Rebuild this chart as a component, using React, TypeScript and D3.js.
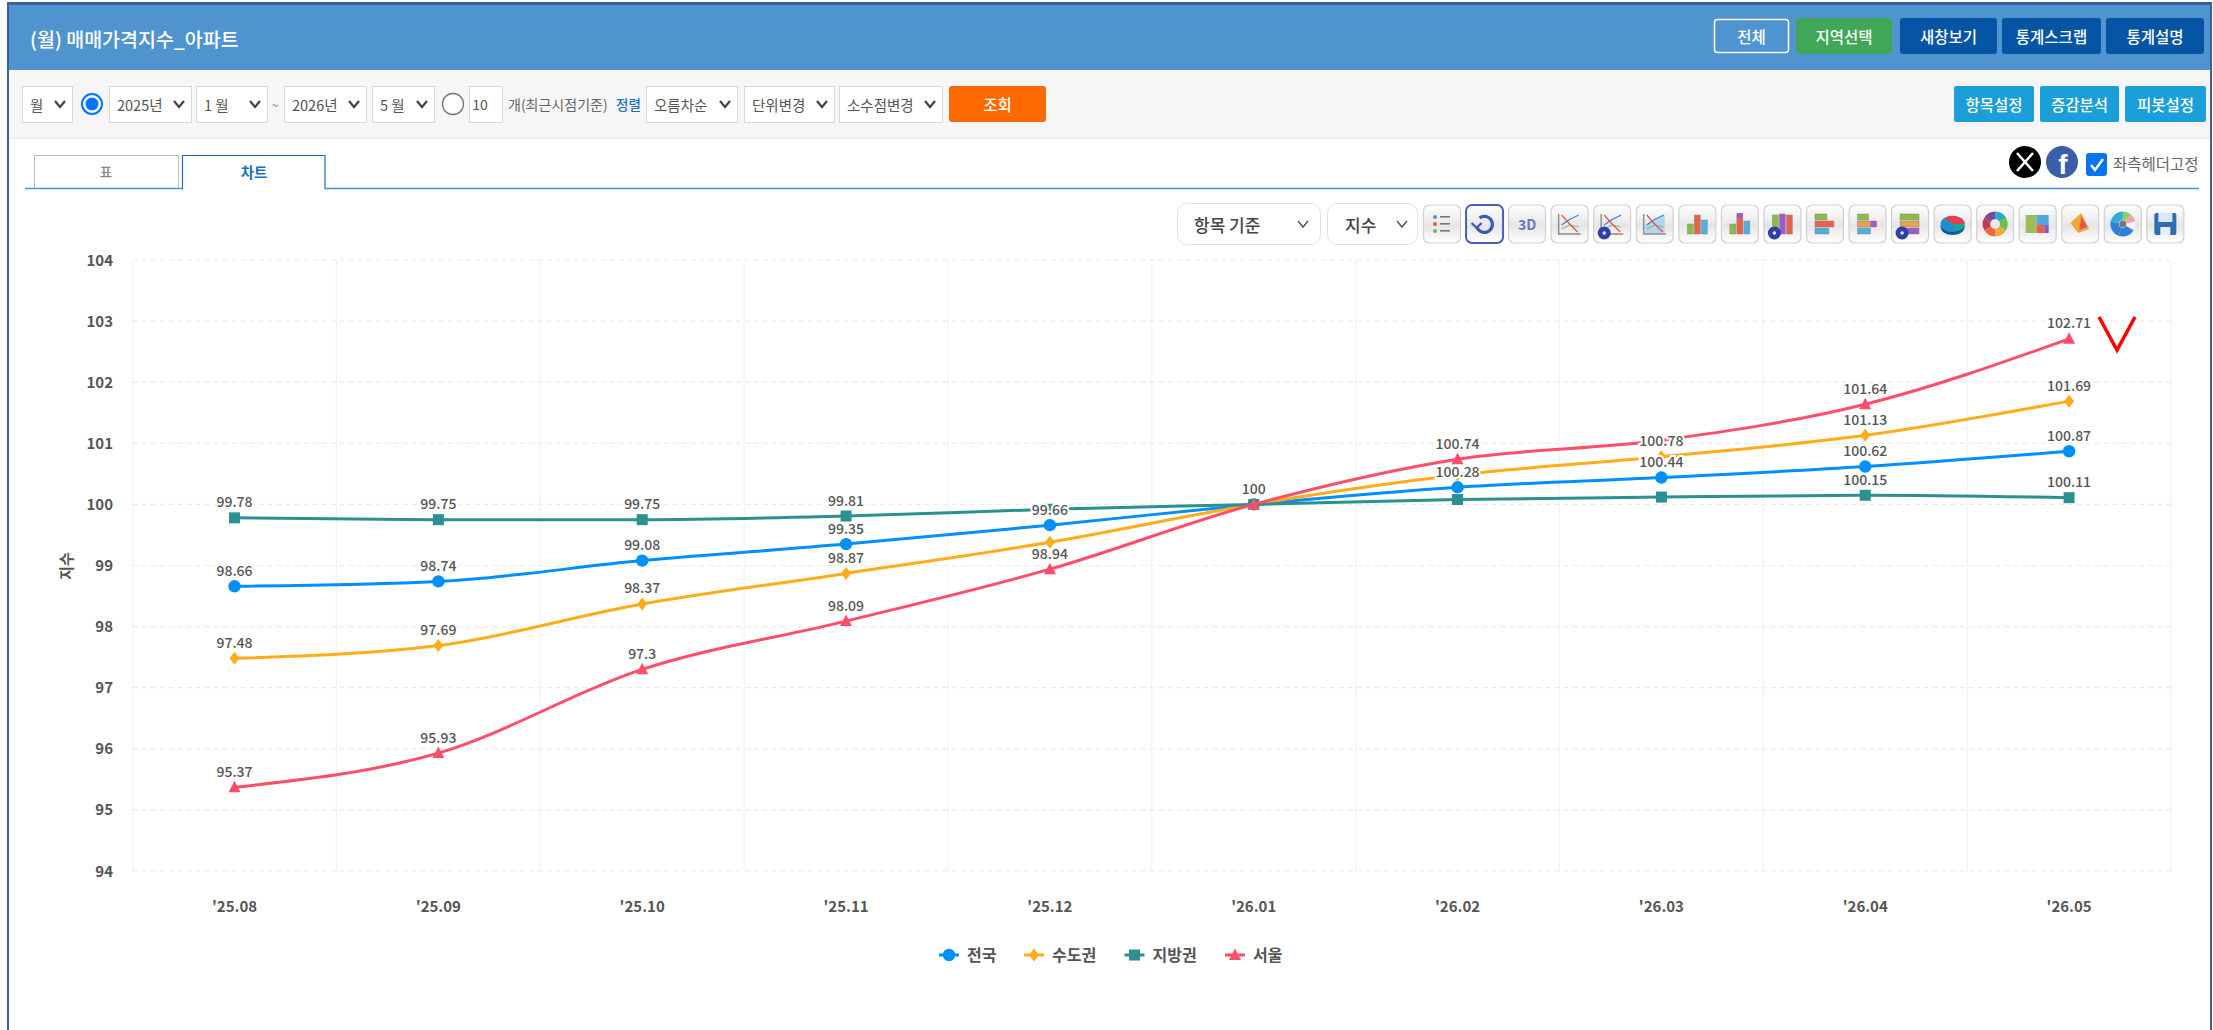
import * as d3 from "d3";
import React from "react";

const KR = "'Noto Sans CJK KR', 'Noto Sans', sans-serif";

// chart data
const months = ["'25.08", "'25.09", "'25.10", "'25.11", "'25.12", "'26.01", "'26.02", "'26.03", "'26.04", "'26.05"];
const yTicks = [94, 95, 96, 97, 98, 99, 100, 101, 102, 103, 104];
const nationwide = [98.66, 98.74, 99.08, 99.35, 99.66, 100, 100.28, 100.44, 100.62, 100.87];
const capital = [97.48, 97.69, 98.37, 98.87, 99.38, 100, 100.48, 100.78, 101.13, 101.69];
const provinces = [99.78, 99.75, 99.75, 99.81, 99.92, 100, 100.08, 100.12, 100.15, 100.11];
const seoul = [95.37, 95.93, 97.3, 98.09, 98.94, 100, 100.74, 101.05, 101.64, 102.71];
// the original hides labels that would collide
const nationwideHidden: number[] = [];
const capitalHidden = [4, 5, 6];
const provincesHidden = [4, 5, 6, 7];
const seoulHidden = [5, 7];

const seriesNames = ["전국", "수도권", "지방권", "서울"];
const seriesColors = ["#008ffb", "#feac19", "#2b908f", "#ff4d6a"];
const seriesValues = [nationwide, capital, provinces, seoul];
const seriesHidden = [nationwideHidden, capitalHidden, provincesHidden, seoulHidden];
const legendMarkerX = [949, 1034, 1134.5, 1235];

// page chrome
const headerButtons = [
  { label: "지역선택", x: 1796, w: 96, fill: "#3fa757" },
  { label: "새창보기", x: 1900, w: 97, fill: "#0654a4" },
  { label: "통계스크랩", x: 2002, w: 99, fill: "#0654a4" },
  { label: "통계설명", x: 2106, w: 98, fill: "#0654a4" },
];
const toolButtons = [
  { label: "항목설정", x: 1954, w: 80 },
  { label: "증감분석", x: 2040, w: 79 },
  { label: "피봇설정", x: 2125, w: 81 },
];
const selects = [
  { label: "월", x: 22, w: 50 },
  { label: "2025년", x: 109, w: 82 },
  { label: "1 월", x: 196, w: 71 },
  { label: "2026년", x: 284, w: 82 },
  { label: "5 월", x: 372, w: 62 },
  { label: "오름차순", x: 646, w: 91 },
  { label: "단위변경", x: 744, w: 90 },
  { label: "소수점변경", x: 839, w: 103 },
];
const iconKinds = [
  "list", "reload", "3d", "line", "lineBadge", "area", "bar", "stack", "stackBadge",
  "hbar", "hstack", "hstackBadge", "pie", "donut", "tree", "radar", "sun", "save",
];

const width = 2213;
const height = 1030;
const plotLeft = 132.6;
const plotRight = 2171;
const plotTop = 260;
const plotBottom = 871;

function Select({ label, x, w }: { label: string; x: number; w: number }) {
  const right = x + w;
  return (
    <g>
      <rect x={x + 0.5} y={86.5} width={w} height={36} fill="#fff" stroke="#d8d8d8" />
      <text x={x + 8} y={104} dominantBaseline="central" fontSize={14.5} fill="#555" fontFamily={KR}>{label}</text>
      <path d={`M${right - 17},101 l5,6 l5,-6`} fill="none" stroke="#444" strokeWidth={2.2} />
    </g>
  );
}

function Marker({ i, x, y }: { i: number; x: number; y: number }) {
  const fill = seriesColors[i];
  if (i === 0) return <circle cx={x} cy={y} r={6.2} fill={fill} />;
  if (i === 1) return <path d={`M${x},${y - 6.5} L${x + 5},${y} L${x},${y + 6.5} L${x - 5},${y} Z`} fill={fill} />;
  if (i === 2) return <rect x={x - 5.5} y={y - 5.5} width={11} height={11} fill={fill} />;
  return <path d={`M${x},${y - 6.5} L${x + 6},${y + 5} L${x - 6},${y + 5} Z`} fill={fill} />;
}

function ToolIcon({ kind, cx }: { kind: string; cx: number }) {
  const cy = 224;
  const linesBase = (
    <>
      <path d={`M${cx - 11},${cy - 10} V${cy + 10} H${cx + 11}`} fill="none" stroke="#8a8a8a" strokeWidth={1.4} />
      <path d={`M${cx - 8},${cy + 5} L${cx},${cy + 1} L${cx + 9},${cy + 3}`} fill="none" stroke="#93bd7a" strokeWidth={1.2} />
      <path d={`M${cx - 8},${cy + 1} L${cx - 1},${cy - 4} L${cx + 9},${cy - 9}`} fill="none" stroke="#3b83d6" strokeWidth={1.2} />
      <path d={`M${cx - 8},${cy - 9} L${cx - 1},${cy - 1} L${cx + 8},${cy + 8}`} fill="none" stroke="#e2524f" strokeWidth={1.2} />
    </>
  );
  const badge = (
    <g>
      <circle cx={cx - 8} cy={cy + 9} r={6.5} fill="#2f3fa8" />
      <circle cx={cx - 8} cy={cy + 9} r={1.8} fill="#dfe3ff" />
    </g>
  );
  const vBars = (h: number[], c: string[]) =>
    h.map((v, j) => <rect key={j} x={cx - 10 + j * 7} y={cy + 10 - v} width={6} height={v} fill={c[j]} stroke="#8a8a8a" strokeWidth={0.5} />);
  const hBars = (w: number[], c: string[]) =>
    w.map((v, j) => <rect key={j} x={cx - 10} y={cy - 10 + j * 7} width={v} height={6} fill={c[j]} stroke="#8a8a8a" strokeWidth={0.5} />);
  switch (kind) {
    case "list":
      return (
        <g>
          {["#4f94d6", "#ee5a33", "#4fc36a"].map((c, j) => (
            <g key={j}>
              <circle cx={cx - 7} cy={cy - 7 + j * 7} r={2} fill={c} />
              <rect x={cx - 2} y={cy - 8 + j * 7} width={10} height={1.6} fill="#777" />
            </g>
          ))}
        </g>
      );
    case "reload":
      return (
        <g fill="none" stroke="#3f58b4">
          <path d={`M${cx - 5},${cy - 6} A8,8 0 1 1 ${cx - 8},${cy + 2}`} strokeWidth={3.2} />
          <path d={`M${cx - 13},${cy - 1} L${cx - 8},${cy + 4} L${cx - 3},${cy - 1}`} strokeWidth={2.2} />
        </g>
      );
    case "3d":
      return <text x={cx} y={cy} textAnchor="middle" dominantBaseline="central" fontSize={14} fontWeight={700} fill="#6a78c0" fontFamily={KR}>3D</text>;
    case "line":
      return linesBase;
    case "lineBadge":
      return <g>{linesBase}{badge}</g>;
    case "area":
      return (
        <g>
          <path d={`M${cx - 10},${cy + 9} V${cy + 1} L${cx},${cy - 4} L${cx + 10},${cy - 9} V${cy + 9} Z`} fill="#b4d6ec" />
          {linesBase}
        </g>
      );
    case "bar":
      return <g>{vBars([10, 19, 14], ["#8dbb45", "#e8604c", "#4fb0e0"])}</g>;
    case "stack":
      return <g>{vBars([10, 19, 13], ["#8dbb45", "#e8604c", "#4fb0e0"])}<rect x={cx - 3} y={cy - 11} width={6} height={5} fill="#9a5bd0" /></g>;
    case "stackBadge":
      return <g>{vBars([19, 20, 19], ["#8dbb45", "#9a5bd0", "#e8604c"])}{badge}</g>;
    case "hbar":
      return <g>{hBars([12, 19, 14], ["#8dbb45", "#e8604c", "#4fb0e0"])}</g>;
    case "hstack":
      return <g>{hBars([11, 19, 13], ["#8dbb45", "#e8a04c", "#4fb0e0"])}<rect x={cx + 3} y={cy - 3} width={6} height={6} fill="#9a5bd0" /></g>;
    case "hstackBadge":
      return <g>{hBars([19, 19, 19], ["#8dbb45", "#e8a04c", "#9a5bd0"])}{badge}</g>;
    case "pie":
      return (
        <g>
          <ellipse cx={cx} cy={cy + 3} rx={12} ry={8} fill="#0f5d8c" />
          <ellipse cx={cx} cy={cy} rx={12} ry={8} fill="#1e8fd0" />
          <path d={`M${cx},${cy} L${cx - 8},${cy - 6} A12,8 0 0 1 ${cx + 12},${cy} Z`} fill="#e5404b" />
          <path d={`M${cx},${cy} L${cx + 12},${cy} A12,8 0 0 1 ${cx + 5},${cy + 7} Z`} fill="#1fa58f" />
        </g>
      );
    case "donut": {
      const arc = d3.arc<any>().innerRadius(5).outerRadius(12.5);
      const colors = ["#2aa9c9", "#6cc24a", "#f0a83c", "#ee6a3c", "#c0395a", "#7a4a9a"];
      return (
        <g transform={`translate(${cx},${cy})`}>
          {d3.pie<number>()([1, 1, 1, 1, 1, 1]).map((d, j) => <path key={j} d={arc(d) as string} fill={colors[j]} />)}
        </g>
      );
    }
    case "tree":
      return (
        <g>
          <rect x={cx - 12} y={cy - 9} width={11} height={18} fill="#9dbb5a" />
          <rect x={cx - 1} y={cy - 9} width={12} height={10} fill="#4fa9e0" />
          <rect x={cx - 1} y={cy + 1} width={8} height={8} fill="#e8604c" />
          <rect x={cx + 7} y={cy + 1} width={4} height={8} fill="#7a5bd0" />
        </g>
      );
    case "radar":
      return (
        <g>
          <path d={`M${cx + 1},${cy - 11} L${cx + 9},${cy + 5} L${cx - 2},${cy + 9} L${cx - 10},${cy - 1} Z`} fill="#f0a83c" />
          <path d={`M${cx + 1},${cy - 8} L${cx + 7},${cy + 3} L${cx - 1},${cy + 6} Z`} fill="#e2574c" />
        </g>
      );
    case "sun": {
      const arc = d3.arc<any>().innerRadius(4).outerRadius(12.5);
      const colors = ["#8ccf6a", "#f2a0b0", "#f4f4f4", "#2f7fd8", "#2f7fd8", "#37a9d8"];
      return (
        <g transform={`translate(${cx},${cy})`}>
          {d3.pie<number>().sort(null)([1, 1, 1, 2, 2, 2]).map((d, j) => <path key={j} d={arc(d) as string} fill={colors[j]} />)}
          <circle r={3.5} fill="#777" />
        </g>
      );
    }
    default:
      return (
        <g>
          <rect x={cx - 11} y={cy - 11} width={22} height={22} rx={2} fill="#2f6db5" />
          <rect x={cx - 7} y={cy - 11} width={14} height={9} fill="#d7e9f8" />
          <rect x={cx - 5} y={cy + 3} width={10} height={8} fill="#e9eef4" />
        </g>
      );
  }
}

export default function App() {
  const x = d3.scaleBand<string>().domain(months).range([plotLeft, plotRight]);
  const y = d3.scaleLinear().domain([94, 104]).range([plotBottom, plotTop]);
  const px = (i: number) => (x(months[i]) as number) + x.bandwidth() / 2;
  const line = d3
    .line<number>()
    .x((_, i) => px(i))
    .y((d) => y(d))
    .curve(d3.curveMonotoneX);
  const gridX = d3.range(months.length + 1).map((i) => plotLeft + i * x.step());

  return (
    <svg width={width} height={height} viewBox={`0 0 ${width} ${height}`} style={{ position: "absolute", left: 0, top: 0, display: "block" }}>
      <rect width={width} height={height} fill="#fff" />

      {/* header */}
      <rect x={8} y={5} width={2203} height={65} fill="#4f94cf" />
      <rect x={7} y={2} width={2205} height={3} fill="#3e5f9e" />
      <text x={30} y={38} dominantBaseline="central" fontSize={19.5} fontWeight={500} fill="#fff" fontFamily={KR}>(월) 매매가격지수_아파트</text>
      <rect x={1714.5} y={19.5} width={74} height={33} rx={3} fill="none" stroke="#fff" strokeWidth={1.5} />
      <text x={1751.5} y={36} textAnchor="middle" dominantBaseline="central" fontSize={15.5} fontWeight={500} fill="#fff" fontFamily={KR}>전체</text>
      {headerButtons.map((b) => (
        <g key={b.label}>
          <rect x={b.x} y={18} width={b.w} height={36} rx={3} fill={b.fill} />
          <text x={b.x + b.w / 2} y={36} textAnchor="middle" dominantBaseline="central" fontSize={15.5} fontWeight={500} fill="#fff" fontFamily={KR}>{b.label}</text>
        </g>
      ))}

      {/* search bar */}
      <rect x={8} y={70} width={2203} height={68} fill="#f6f6f6" />
      <rect x={8} y={137} width={2203} height={2} fill="#eee" />
      {selects.map((s) => <Select key={s.label} {...s} />)}
      <circle cx={92} cy={104} r={10} fill="#fff" stroke="#0075ff" strokeWidth={2} />
      <circle cx={92} cy={104} r={6.5} fill="#0075ff" />
      <text x={275} y={104} textAnchor="middle" dominantBaseline="central" fontSize={12} fill="#777" fontFamily={KR}>~</text>
      <circle cx={453} cy={104} r={10.5} fill="#fff" stroke="#777" strokeWidth={1.3} />
      <rect x={469.5} y={86.5} width={33} height={36} fill="#fff" stroke="#d8d8d8" />
      <text x={480} y={104} textAnchor="middle" dominantBaseline="central" fontSize={14} fill="#555" fontFamily={KR}>10</text>
      <text x={508} y={104} dominantBaseline="central" fontSize={14} fill="#666" fontFamily={KR}>개(최근시점기준)</text>
      <text x={616} y={104} dominantBaseline="central" fontSize={13.5} fontWeight={500} fill="#1a6fc0" fontFamily={KR}>정렬</text>
      <rect x={949} y={86} width={97} height={36} rx={3} fill="#ff6a00" />
      <text x={997.5} y={104} textAnchor="middle" dominantBaseline="central" fontSize={15.5} fontWeight={500} fill="#fff" fontFamily={KR}>조회</text>
      {toolButtons.map((b) => (
        <g key={b.label}>
          <rect x={b.x} y={86} width={b.w} height={36} rx={2} fill="#1a9fd8" />
          <text x={b.x + b.w / 2} y={104} textAnchor="middle" dominantBaseline="central" fontSize={15.5} fontWeight={500} fill="#fff" fontFamily={KR}>{b.label}</text>
        </g>
      ))}

      {/* tabs */}
      <rect x={34.5} y={155.5} width={144} height={33} fill="#fff" stroke="#bbb" />
      <text x={106} y={171} textAnchor="middle" dominantBaseline="central" fontSize={13.5} fontWeight={500} fill="#888" fontFamily={KR}>표</text>
      <line x1={25} x2={2199} y1={188.5} y2={188.5} stroke="#4a8fdc" strokeWidth={1.5} />
      <path d="M182.5,189 V155.5 H325 V189" fill="#fff" stroke="#1a6fc8" strokeWidth={1.2} />
      <rect x={183} y={186} width={141} height={4} fill="#fff" />
      <text x={254} y={171} textAnchor="middle" dominantBaseline="central" fontSize={14.5} fontWeight={700} fill="#1a6fc0" fontFamily={KR}>차트</text>

      {/* share icons */}
      <circle cx={2025} cy={162} r={16} fill="#000" />
      <path d="M2017,153 L2033,171 M2033,153 L2017,171" stroke="#fff" strokeWidth={2.6} fill="none" />
      <circle cx={2062} cy={162} r={16} fill="#3b5ea8" />
      <text x={2063} y={164} textAnchor="middle" dominantBaseline="central" fontSize={28} fontWeight={700} fill="#fff" fontFamily="'Liberation Sans', sans-serif">f</text>
      <rect x={2086} y={153} width={21} height={23} rx={3} fill="#0a74f0" />
      <path d="M2091,165 l4,5 l8,-11" fill="none" stroke="#fff" strokeWidth={2.4} />
      <text x={2113} y={163} dominantBaseline="central" fontSize={15.5} fill="#666" fontFamily={KR}>좌측헤더고정</text>

      {/* chart toolbar */}
      <rect x={1177.5} y={203.5} width={143} height={41} rx={10} fill="#fff" stroke="#e0e0e0" />
      <text x={1194} y={224} dominantBaseline="central" fontSize={17} fontWeight={500} fill="#444" fontFamily={KR}>항목 기준</text>
      <path d="M1298,221 l5,6 l5,-6" fill="none" stroke="#555" strokeWidth={1.5} />
      <rect x={1327.5} y={203.5} width={90} height={41} rx={10} fill="#fff" stroke="#e0e0e0" />
      <text x={1345} y={224} dominantBaseline="central" fontSize={17} fontWeight={500} fill="#444" fontFamily={KR}>지수</text>
      <path d="M1397,221 l5,6 l5,-6" fill="none" stroke="#555" strokeWidth={1.5} />
      <defs>
        <linearGradient id="btnFill" x1="0" x2="0" y1="0" y2="1">
          <stop offset="0" stopColor="#fff" />
          <stop offset="0.55" stopColor="#e6e6e6" />
          <stop offset="1" stopColor="#fff" />
        </linearGradient>
      </defs>
      {iconKinds.map((kind, i) => {
        const bx = 1423.5 + i * 42.55;
        const selected = kind === "reload";
        return (
          <g key={kind}>
            <rect x={bx} y={205} width={37} height={38} rx={6} fill="url(#btnFill)" stroke={selected ? "#4a5fb8" : "#d0d0d0"} strokeWidth={selected ? 2 : 1.2} />
            <ToolIcon kind={kind} cx={bx + 18.5} />
          </g>
        );
      })}

      {/* grid */}
      {gridX.map((gx) => (
        <line key={gx} x1={gx} x2={gx} y1={plotTop} y2={plotBottom} stroke="#f2f2f2" strokeWidth={1.2} />
      ))}
      {yTicks.map((t) => (
        <line key={t} x1={plotLeft} x2={plotRight} y1={y(t)} y2={y(t)} stroke="#ececec" strokeWidth={1.2} strokeDasharray="5 4" />
      ))}

      {/* axes */}
      {yTicks.map((t) => (
        <text key={t} x={113} y={y(t) - 1} textAnchor="end" dominantBaseline="central" fontSize={15} fontWeight={700} fill="#555" fontFamily={KR}>{t}</text>
      ))}
      {months.map((m, i) => (
        <text key={m} x={px(i)} y={905} textAnchor="middle" dominantBaseline="central" fontSize={15} fontWeight={700} fill="#555" fontFamily={KR}>{m}</text>
      ))}
      <text transform="translate(65,566) rotate(-90)" textAnchor="middle" dominantBaseline="central" fontSize={15} fontWeight={700} fill="#555" fontFamily={KR}>지수</text>

      {/* series */}
      {seriesValues.map((vals, s) => (
        <g key={seriesNames[s]}>
          <path d={line(vals) as string} fill="none" stroke={seriesColors[s]} strokeWidth={3} />
          {vals.map((v, i) => <Marker key={i} i={s} x={px(i)} y={y(v)} />)}
        </g>
      ))}

      {/* value labels */}
      {seriesValues.map((vals, s) =>
        vals.map((v, i) =>
          seriesHidden[s].includes(i) ? null : (
            <text
              key={`${s}-${i}`}
              x={px(i)}
              y={y(v) - 16.5}
              textAnchor="middle"
              dominantBaseline="central"
              fontSize={14}
              fontWeight={500}
              fill="#555"
              stroke="#fff"
              strokeWidth={4}
              paintOrder="stroke"
              fontFamily={KR}
            >
              {v}
            </text>
          )
        )
      )}

      {/* hand-drawn check mark on the original screenshot */}
      <path d="M2099,317 L2117,350 L2135,317" fill="none" stroke="#f00" strokeWidth={3.5} />

      {/* legend */}
      {seriesNames.map((name, s) => (
        <g key={name}>
          <line x1={legendMarkerX[s] - 10} x2={legendMarkerX[s] + 10} y1={955} y2={955} stroke={seriesColors[s]} strokeWidth={3} />
          <Marker i={s} x={legendMarkerX[s]} y={955} />
          <text x={legendMarkerX[s] + 18} y={954} dominantBaseline="central" fontSize={16} fontWeight={700} fill="#555" fontFamily={KR}>{name}</text>
        </g>
      ))}

      {/* page border */}
      <rect x={7} y={2} width={2} height={1028} fill="#3e5f9e" />
      <rect x={2210} y={2} width={2} height={1028} fill="#3e5f9e" />
    </svg>
  );
}
